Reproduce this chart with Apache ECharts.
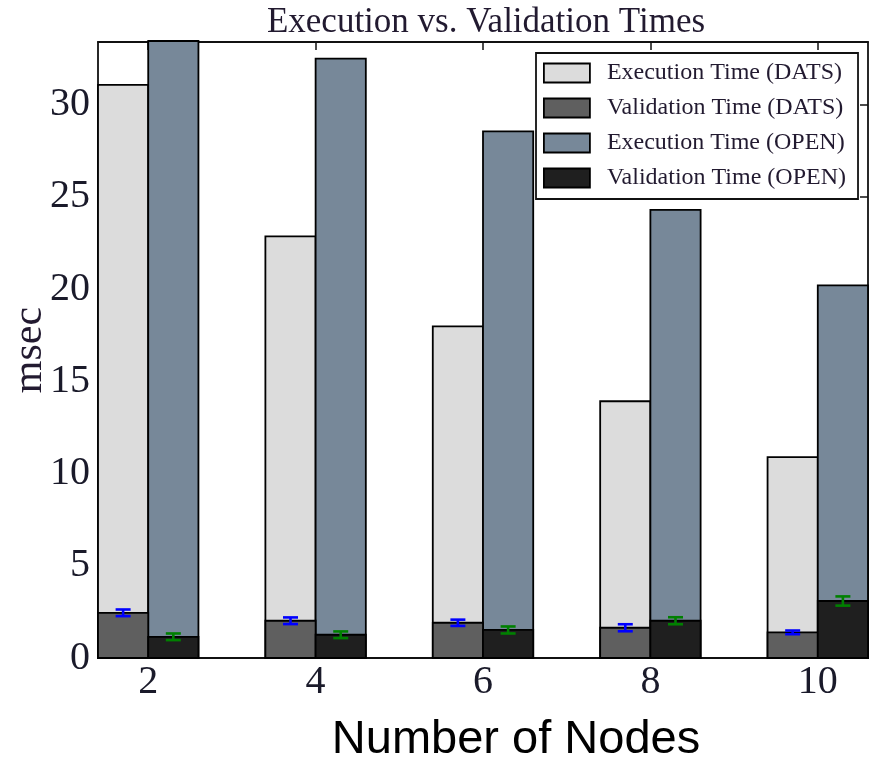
<!DOCTYPE html>
<html>
<head>
<meta charset="utf-8">
<script src="https://cdn.jsdelivr.net/npm/echarts@6/dist/echarts.min.js"></script>
<style>
  html, body { margin: 0; padding: 0; background: #fff; }
  #chart { width: 875px; height: 761px; }
</style>
</head>
<body>
<div id="chart"></div>
<script>
// Number of nodes on the x axis
const nodes = [2, 4, 6, 8, 10];

// Mean times in msec
const execDats = [31.08, 22.86, 17.98, 13.92, 10.89];
const valDats  = [2.45, 2.02, 1.91, 1.64, 1.39];
const execOpen = [34.6, 32.5, 28.55, 24.3, 20.2];
const valOpen  = [1.15, 1.26, 1.52, 2.02, 3.09];

// Half-width of the error bars on validation times
const errDats = [0.18, 0.18, 0.17, 0.19, 0.10];
const errOpen = [0.18, 0.18, 0.19, 0.19, 0.25];

// Axis ticks
const yTicks = [0, 5, 10, 15, 20, 25, 30];

const BAR_W = 0.6;
const SERIF = '"Liberation Serif", "DejaVu Serif", serif';

const legendNames = [
  'Execution Time (DATS)',
  'Validation Time (DATS)',
  'Execution Time (OPEN)',
  'Validation Time (OPEN)'
];
const fills = ['#dcdcdc', '#5f5f5f', '#778899', '#1f1f1f'];

function barRenderer(offset) {
  return function (params, api) {
    const x = api.value(0), v = api.value(1);
    const p0 = api.coord([x + offset, 0]);
    const p1 = api.coord([x + offset + BAR_W, v]);
    const cs = params.coordSys;
    const shape = echarts.graphic.clipRectByRect(
      { x: p0[0], y: p1[1], width: p1[0] - p0[0], height: p0[1] - p1[1] },
      { x: cs.x, y: cs.y - 1, width: cs.width, height: cs.height + 1 }
    );
    return shape && { type: 'rect', shape: shape, style: api.style() };
  };
}

function errRenderer(offset, color) {
  return function (params, api) {
    const x = api.value(0) + offset + BAR_W / 2;
    const v = api.value(1), e = api.value(2);
    const lo = api.coord([x, v - e]);
    const hi = api.coord([x, v + e]);
    const cap = 7.5;
    const st = { stroke: color, lineWidth: 2.6 };
    return {
      type: 'group',
      children: [
        { type: 'line', shape: { x1: lo[0], y1: lo[1], x2: hi[0], y2: hi[1] }, style: st },
        { type: 'line', shape: { x1: lo[0] - cap, y1: lo[1], x2: lo[0] + cap, y2: lo[1] }, style: st },
        { type: 'line', shape: { x1: hi[0] - cap, y1: hi[1], x2: hi[0] + cap, y2: hi[1] }, style: st }
      ]
    };
  };
}

function barSeries(name, values, offset, color) {
  return {
    type: 'custom',
    name: name,
    xAxisIndex: 0,
    yAxisIndex: 0,
    renderItem: barRenderer(offset),
    itemStyle: { color: color, borderColor: '#000', borderWidth: 1.8 },
    data: nodes.map((n, i) => [n, values[i]]),
    encode: { x: 0, y: 1 },
    silent: true
  };
}

function errSeries(values, errs, offset, color) {
  return {
    type: 'custom',
    name: 'err' + offset,
    xAxisIndex: 0,
    yAxisIndex: 0,
    renderItem: errRenderer(offset, color),
    data: nodes.map((n, i) => [n, values[i], errs[i]]),
    encode: { x: 0, y: 1 },
    z: 5,
    silent: true
  };
}

const chart = echarts.init(document.getElementById('chart'), null, { renderer: 'canvas' });

const yBase = {
  type: 'value', min: 0, max: 33.4,
  splitLine: { show: false },
  axisLine: { show: true, onZero: false, lineStyle: { color: '#111', width: 1.8 } }
};
const xBase = {
  type: 'value', min: 1.4, max: 10.6,
  splitLine: { show: false },
  axisLine: { show: true, onZero: false, lineStyle: { color: '#111', width: 1.8 } }
};
const tickStyle = { color: '#111', width: 1.5 };

chart.setOption({
  animation: false,
  backgroundColor: '#fff',
  grid: { left: 98, right: 7, top: 42, bottom: 103, show: false, containLabel: false, outerBoundsMode: 'none' },
  graphic: [
    {
      type: 'text', x: 486, y: 23,
      style: {
        text: 'Execution vs. Validation Times',
        font: '35px ' + SERIF, fill: '#221a30',
        align: 'center', verticalAlign: 'middle'
      }
    },
    {
      type: 'text', x: 516, y: 740,
      style: {
        text: 'Number of Nodes',
        font: '47px "Liberation Sans", Arial, sans-serif', fill: '#000',
        align: 'center', verticalAlign: 'middle'
      }
    }
  ],
  legend: {
    orient: 'vertical',
    left: 536, top: 53,
    padding: [8, 12, 9, 7],
    itemWidth: 46, itemHeight: 19, itemGap: 11,
    backgroundColor: '#fff',
    borderColor: '#111', borderWidth: 1.8, borderRadius: 0,
    icon: 'rect',
    itemStyle: { borderColor: '#000', borderWidth: 1.8 },
    textStyle: { fontFamily: SERIF, fontSize: 24, color: '#221a30', padding: [0, 0, 0, 12] },
    selectedMode: false,
    data: legendNames.map((n, i) => ({ name: n, itemStyle: { color: fills[i] } })),
    z: 10
  },
  xAxis: [
    Object.assign({}, xBase, {
      position: 'bottom',
      axisTick: { show: true, inside: true, length: 8, customValues: nodes, lineStyle: tickStyle },
      axisLabel: { customValues: nodes, margin: 4, fontFamily: SERIF, fontSize: 40, color: '#1a1a2a' }
    }),
    Object.assign({}, xBase, {
      position: 'top',
      axisTick: { show: true, inside: true, length: 8, customValues: nodes, lineStyle: tickStyle },
      axisLabel: { show: false }
    })
  ],
  yAxis: [
    Object.assign({}, yBase, {
      position: 'left',
      name: 'msec',
      nameLocation: 'middle',
      nameRotate: 90,
      nameGap: 47,
      nameMoveOverlap: false,
      nameTextStyle: { fontFamily: SERIF, fontSize: 42, color: '#221a30' },
      axisTick: { show: true, inside: true, length: 8, customValues: yTicks, lineStyle: tickStyle },
      axisLabel: { customValues: yTicks, margin: 8, fontFamily: SERIF, fontSize: 40, color: '#1a1a2a' }
    }),
    Object.assign({}, yBase, {
      position: 'right',
      axisTick: { show: true, inside: true, length: 8, customValues: yTicks, lineStyle: tickStyle },
      axisLabel: { show: false }
    })
  ],
  series: [
    barSeries(legendNames[0], execDats, -BAR_W, fills[0]),
    barSeries(legendNames[2], execOpen, 0, fills[2]),
    barSeries(legendNames[1], valDats, -BAR_W, fills[1]),
    barSeries(legendNames[3], valOpen, 0, fills[3]),
    errSeries(valDats, errDats, -BAR_W, '#0000ff'),
    errSeries(valOpen, errOpen, 0, '#008000')
  ]
});
</script>
</body>
</html>
